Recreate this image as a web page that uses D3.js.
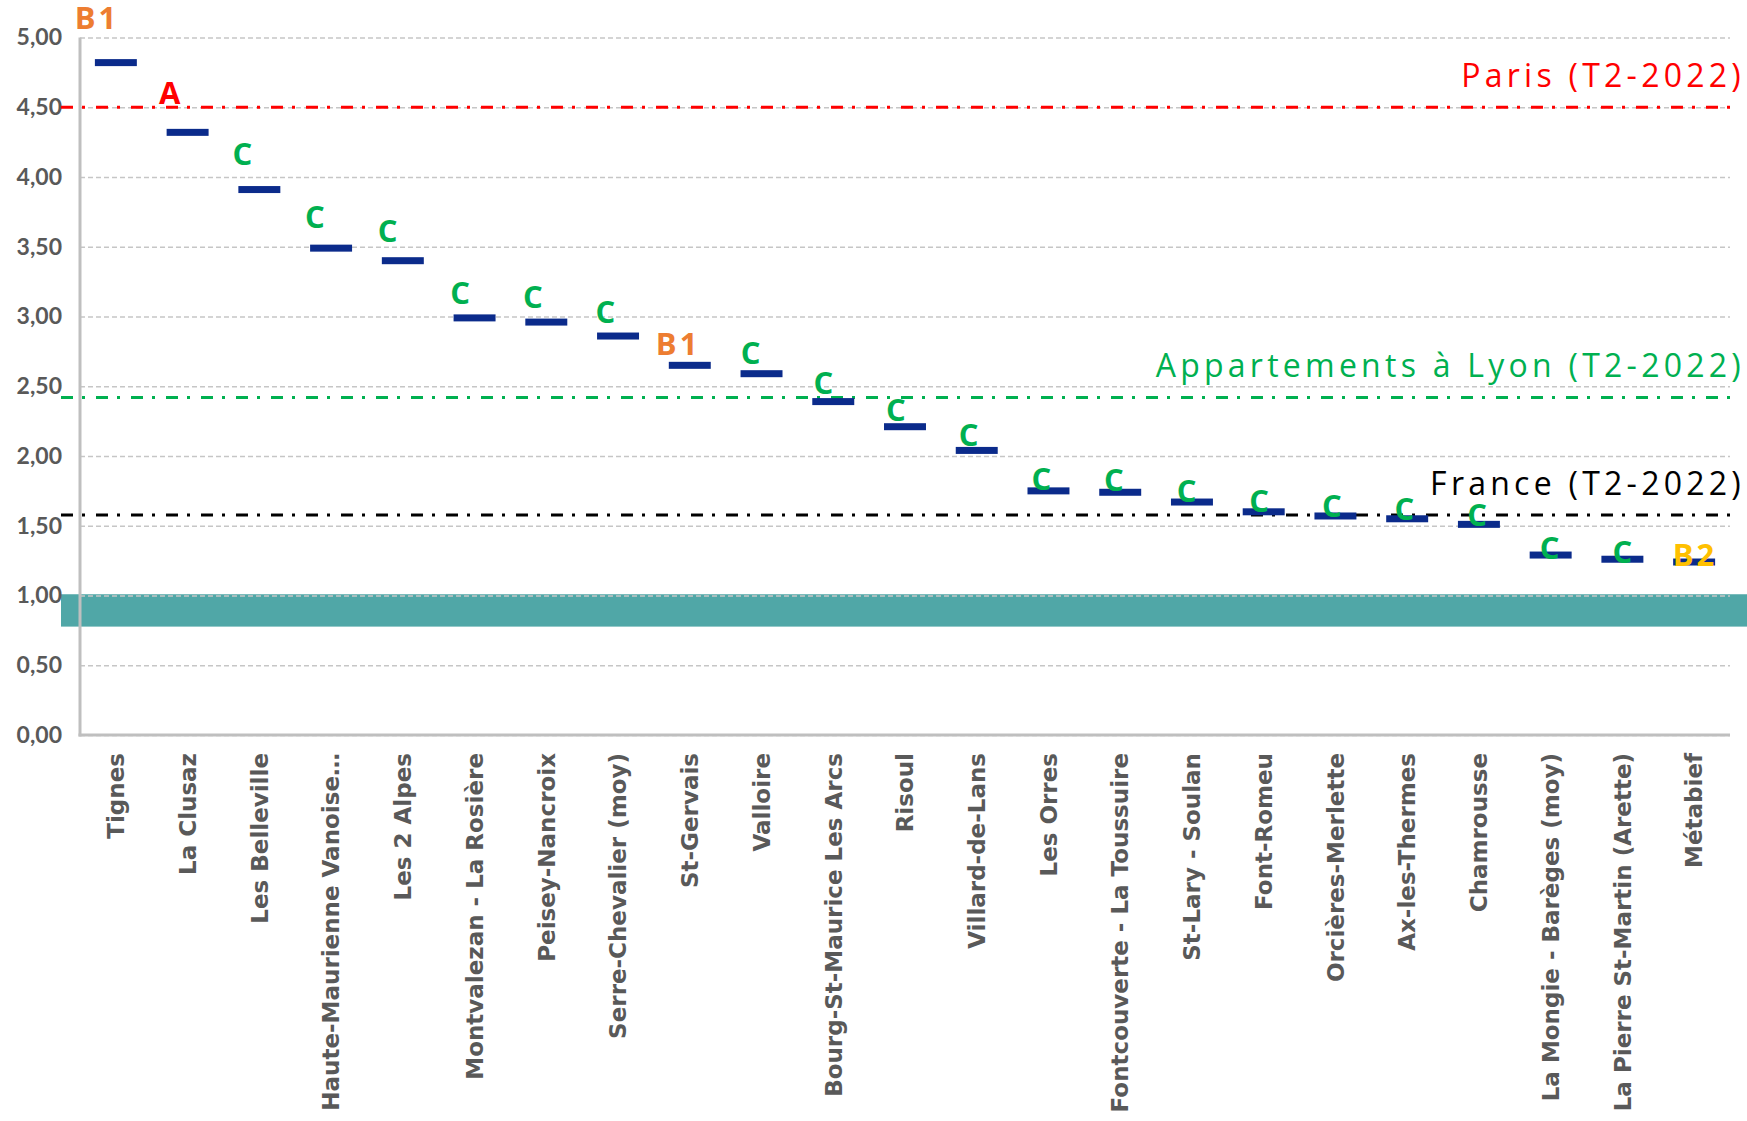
<!DOCTYPE html>
<html lang="fr">
<head>
<meta charset="utf-8">
<script src="https://cdn.jsdelivr.net/npm/d3@7"></script>
<style>
  html, body { margin: 0; padding: 0; background: #ffffff; }
  svg { display: block; }
</style>
</head>
<body>
<svg id="chart" width="1747" height="1121"></svg>
<script>
// Stations de ski : indice de prix (T2-2022), un trait par station
const stations = [
  "Tignes", "La Clusaz", "Les Belleville", "Haute-Maurienne Vanoise\u2026",
  "Les 2 Alpes", "Montvalezan - La Rosière", "Peisey-Nancroix",
  "Serre-Chevalier (moy)", "St-Gervais", "Valloire", "Bourg-St-Maurice Les Arcs",
  "Risoul", "Villard-de-Lans", "Les Orres", "Fontcouverte - La Toussuire",
  "St-Lary - Soulan", "Font-Romeu", "Orcières-Merlette", "Ax-les-Thermes",
  "Chamrousse", "La Mongie - Barèges (moy)", "La Pierre St-Martin (Arette)", "Métabief"
];
const values = [
  4.82, 4.32, 3.91, 3.49, 3.40, 2.99, 2.96, 2.86, 2.65, 2.59, 2.39, 2.21,
  2.04, 1.75, 1.74, 1.67, 1.60, 1.57, 1.55, 1.51, 1.29, 1.26, 1.24
];
const classes = [
  "B1", "A", "C", "C", "C", "C", "C", "C", "B1", "C", "C", "C",
  "C", "C", "C", "C", "C", "C", "C", "C", "C", "C", "B2"
];
// Lignes de référence
const refLabels = ["Paris (T2-2022)", "Appartements à Lyon (T2-2022)", "France (T2-2022)"];
const refValues = [4.50, 2.42, 1.577];
// Bande horizontale
const bandRange = [0.777, 1.009];
// Graduations de l'axe vertical
const yTicks = [0, 0.5, 1, 1.5, 2, 2.5, 3, 3.5, 4, 4.5, 5];

const classColor = { A: "#FF0000", B1: "#ED7D31", B2: "#FFC000", C: "#00B050" };
const refColor = ["#FF0000", "#00B050", "#000000"];

const W = 1747, H = 1121;
const plotLeft = 80, plotRight = 1730, plotTop = 37.5, plotBottom = 735;

const svg = d3.select("#chart");

const x = d3.scaleBand().domain(stations).range([plotLeft, plotRight]).padding(0);
const y = d3.scaleLinear().domain([0, 5]).range([plotBottom, plotTop]);
// Les étiquettes de classe suivent leur propre repère, légèrement décalé
const xLab = d3.scalePoint().domain(stations).range([plotLeft + 17, plotRight - 35]);
const yLab = d3.scaleLinear().domain([0, 5]).range([plotBottom + 17.3, plotBottom + 17.3 - 750.5]);

const fr = d3.formatLocale({ decimal: ",", thousands: "\u00a0", grouping: [3], currency: ["", " €"] });
const fmt = fr.format(".2f");

// Bande turquoise
svg.append("rect")
  .attr("x", 61)
  .attr("y", y(bandRange[1]))
  .attr("width", W - 61)
  .attr("height", y(bandRange[0]) - y(bandRange[1]))
  .attr("fill", "#50A7A7");

// Quadrillage horizontal en pointillés
const yAxis = d3.axisLeft(y).tickValues(yTicks).tickFormat(fmt)
  .tickSize(-(plotRight - plotLeft)).tickPadding(18);
const gy = svg.append("g").attr("transform", `translate(${plotLeft},0)`).call(yAxis);
gy.select(".domain").remove();
gy.selectAll(".tick line")
  .attr("stroke", "#c6c6c6")
  .attr("stroke-width", 1.5)
  .attr("stroke-dasharray", "5,3");
gy.selectAll(".tick text")
  .attr("fill", "#595959")
  .style("font-family", "Lato, 'DejaVu Sans', sans-serif")
  .style("font-weight", "bold")
  .style("font-size", "23px");

// Axes (traits gris)
svg.append("line")
  .attr("x1", plotLeft).attr("x2", plotLeft)
  .attr("y1", plotTop).attr("y2", plotBottom + 1.5)
  .attr("stroke", "#bfbfbf").attr("stroke-width", 3);
svg.append("line")
  .attr("x1", plotLeft - 1.5).attr("x2", plotRight)
  .attr("y1", plotBottom).attr("y2", plotBottom)
  .attr("stroke", "#bfbfbf").attr("stroke-width", 3);

// Libellés des stations
const gx = svg.append("g").attr("transform", `translate(0,${plotBottom})`)
  .call(d3.axisBottom(x).tickSize(0).tickPadding(0));
gx.select(".domain").remove();
gx.selectAll(".tick text")
  .attr("transform", "translate(0,18) rotate(-90)")
  .attr("text-anchor", "end")
  .attr("x", 0).attr("y", 0).attr("dy", "0.36em")
  .attr("fill", "#595959")
  .style("font-family", "'DejaVu Sans', sans-serif")
  .style("font-weight", "bold")
  .style("font-size", "23px");

// Lignes de référence
const refs = svg.append("g");
refValues.forEach((v, i) => {
  refs.append("line")
    .attr("x1", 61).attr("x2", plotRight)
    .attr("y1", y(v)).attr("y2", y(v))
    .attr("stroke", refColor[i])
    .attr("stroke-width", 3)
    .attr("stroke-dasharray", "12,9,3,11");
  refs.append("text")
    .attr("x", W - 2)
    .attr("y", y(v) - 20)
    .attr("text-anchor", "end")
    .attr("fill", refColor[i])
    .style("font-family", "'Open Sans', sans-serif")
    .style("font-size", "32px")
    .style("letter-spacing", "4.25px")
    .text(refLabels[i]);
});

// Traits par station
const mw = x.bandwidth() * 0.585;
svg.append("g").selectAll("rect")
  .data(stations)
  .join("rect")
  .attr("x", d => x(d) + (x.bandwidth() - mw) / 2)
  .attr("y", (d, i) => y(values[i]) - 3.5)
  .attr("width", mw)
  .attr("height", 7)
  .attr("fill", "#0B2B8B");

// Classes
svg.append("g").selectAll("text")
  .data(stations)
  .join("text")
  .attr("x", d => xLab(d))
  .attr("y", (d, i) => yLab(values[i]))
  .attr("text-anchor", "middle")
  .attr("fill", (d, i) => classColor[classes[i]])
  .style("font-family", "'Open Sans', sans-serif")
  .style("font-weight", "bold")
  .style("font-size", "31px")
  .style("letter-spacing", (d, i) => classes[i].length > 1 ? "3px" : "0px")
  .text((d, i) => classes[i]);
</script>
</body>
</html>
